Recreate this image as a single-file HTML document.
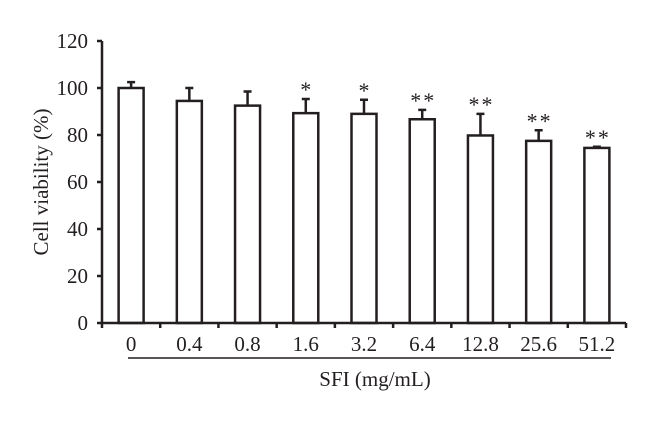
<!DOCTYPE html>
<html><head><meta charset="utf-8"><style>
body{margin:0;background:#fff;width:660px;height:421px;overflow:hidden}
text{font-family:"Liberation Serif",serif;fill:#231f20}
</style></head><body>
<svg width="660" height="421" viewBox="0 0 660 421" xmlns="http://www.w3.org/2000/svg">
<g id="g"></g>
</svg>
<script>
const categories=["0","0.4","0.8","1.6","3.2","6.4","12.8","25.6","51.2"];
const values=[100,94.5,92.5,89.3,89,86.7,79.8,77.5,74.5];
const errors=[2.5,5.5,6,6,6,4,9.2,4.5,0.5];
const stars=["","","","*","*","**","**","**","**"];
const yTicks=[0,20,40,60,80,100,120];
const X0=102,X1=626,Y0=323,Y1=41,YMAX=120;
const bw=(X1-X0)/categories.length;
const y=v=>Y0-(Y0-Y1)*v/YMAX;
const xc=i=>X0+bw*(i+0.5);
const NS="http://www.w3.org/2000/svg";
const g=document.getElementById('g');
function mk(t,a){const e=document.createElementNS(NS,t);for(const k in a)e.setAttribute(k,a[k]);g.appendChild(e);return e;}
const st={stroke:"#231f20","stroke-width":2.5,fill:"none"};
values.forEach((v,i)=>{
 const c=xc(i);
 const r=mk('rect',{x:c-12.5,y:y(v),width:25,height:Y0-y(v),fill:"#fff",stroke:"#231f20","stroke-width":2.5});
 
 
 const e=mk('path',Object.assign({d:`M${c},${y(v)}V${y(v+errors[i])}M${c-4},${y(v+errors[i])}H${c+4}`},st));
 
 
 if(stars[i]){const s=mk('text',{x:c+1,y:y(v+errors[i])-2,"text-anchor":"middle","font-size":22,"letter-spacing":"2"});s.textContent=stars[i];
 
 }
 const t=mk('text',{x:c,y:Y0+28,"text-anchor":"middle","font-size":21});t.textContent=categories[i];
 
 
});
const ax=mk('path',Object.assign({d:`M${X0},${Y1}V${Y0}H${X1}`},st));


for(let i=0;i<=categories.length;i++){const tk=mk('path',Object.assign({d:`M${X0+bw*i},${Y0}v5`},st));
 
 }
yTicks.forEach(v=>{const tk=mk('path',Object.assign({d:`M${X0},${y(v)}h-5`},st));
 
 
 const t=mk('text',{x:X0-14,y:y(v)+7,"text-anchor":"end","font-size":21});t.textContent=v;
 
 });
const ul=mk('path',{d:"M128,358H611",stroke:"#231f20","stroke-width":1.5});


const xt=mk('text',{x:375,y:386,"text-anchor":"middle","font-size":21});xt.textContent="SFI (mg/mL)";


const yt=mk('text',{x:0,y:0,"text-anchor":"middle","font-size":21,transform:"translate(48,182) rotate(-90)"});yt.textContent="Cell viability (%)";


</script>
</body></html>
